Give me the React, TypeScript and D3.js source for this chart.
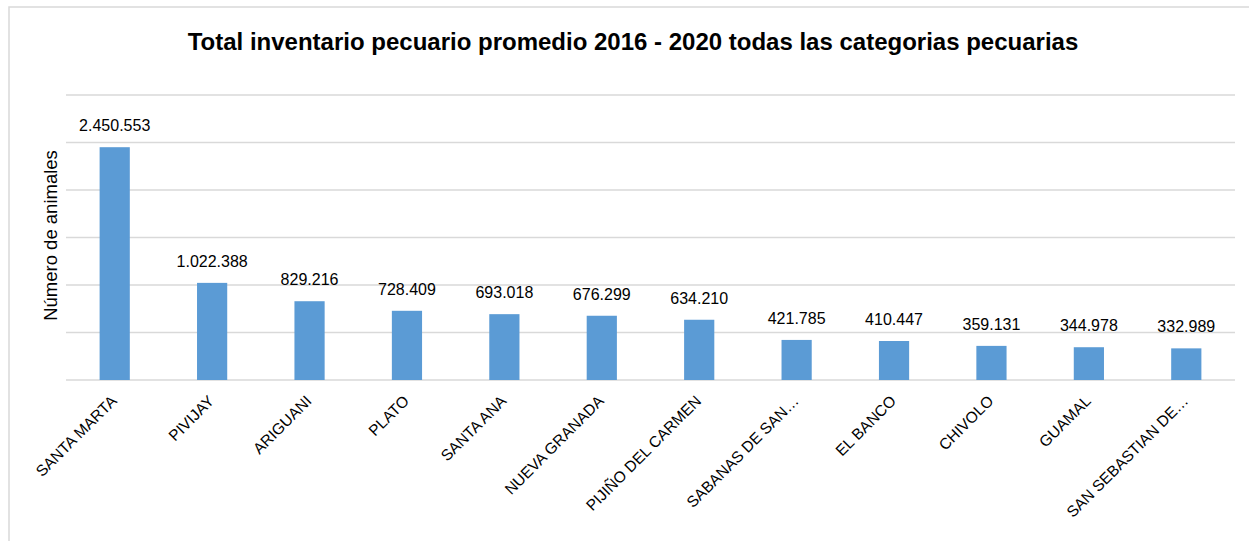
import React from "react";
import * as d3 from "d3";

const municipios = [
  "SANTA MARTA",
  "PIVIJAY",
  "ARIGUANI",
  "PLATO",
  "SANTA ANA",
  "NUEVA GRANADA",
  "PIJIÑO DEL CARMEN",
  "SABANAS DE SAN…",
  "EL BANCO",
  "CHIVOLO",
  "GUAMAL",
  "SAN SEBASTIAN DE…",
];
const animales = [
  2450553, 1022388, 829216, 728409, 693018, 676299, 634210, 421785, 410447,
  359131, 344978, 332989,
];
const gridTicks = [0, 500000, 1000000, 1500000, 2000000, 2500000, 3000000];

const fmt = (v: number) => d3.format(",")(v).replace(/,/g, ".");

export default function App() {
  const width = 1249;
  const height = 541;
  const plotLeft = 66;
  const plotRight = 1235;
  const plotTop = 95;
  const plotBottom = 380;
  const font = "Liberation Sans, Arial, sans-serif";

  const x = d3
    .scaleBand()
    .domain(municipios)
    .range([plotLeft, plotRight])
    .paddingInner(0.69)
    .paddingOuter(0.345);
  const y = d3
    .scaleLinear()
    .domain([0, 3000000])
    .range([plotBottom, plotTop]);

  return (
    <svg
      width={width}
      height={height}
      style={{ position: "absolute", left: 0, top: 0 }}
      fontFamily={font}
    >
      <rect x={0} y={0} width={width} height={height} fill="#fff" />
      {/* chart frame runs off the right and bottom */}
      <rect
        x={9}
        y={7}
        width={width + 10}
        height={height + 10}
        fill="none"
        stroke="#D9D9D9"
        strokeWidth={1.5}
      />
      <text
        x={633}
        y={50}
        textAnchor="middle"
        fontSize={24}
        fontWeight="bold"
        fill="#000"
      >
        Total inventario pecuario promedio 2016 - 2020 todas las categorias pecuarias
      </text>
      {gridTicks.map((t) => (
        <line
          key={t}
          x1={plotLeft}
          x2={plotRight}
          y1={y(t)}
          y2={y(t)}
          stroke="#D9D9D9"
          strokeWidth={1.5}
        />
      ))}
      <text
        transform={`translate(57, ${(plotTop + plotBottom) / 2 - 2}) rotate(-90)`}
        textAnchor="middle"
        fontSize={18.5}
        fill="#000"
      >
        Número de animales
      </text>
      {municipios.map((m, i) => {
        const v = animales[i];
        const bx = x(m) as number;
        const cx = bx + x.bandwidth() / 2;
        return (
          <g key={m}>
            <rect
              x={bx}
              y={y(v)}
              width={x.bandwidth()}
              height={plotBottom - y(v)}
              fill="#5B9BD5"
            />
            <text
              x={cx}
              y={y(v) - 16}
              textAnchor="middle"
              fontSize={16}
              fill="#000"
            >
              {fmt(v)}
            </text>
            <text
              transform={`translate(${cx + 3}, 402) rotate(-45)`}
              textAnchor="end"
              fontSize={15.5}
              fill="#000"
            >
              {m}
            </text>
          </g>
        );
      })}
    </svg>
  );
}
